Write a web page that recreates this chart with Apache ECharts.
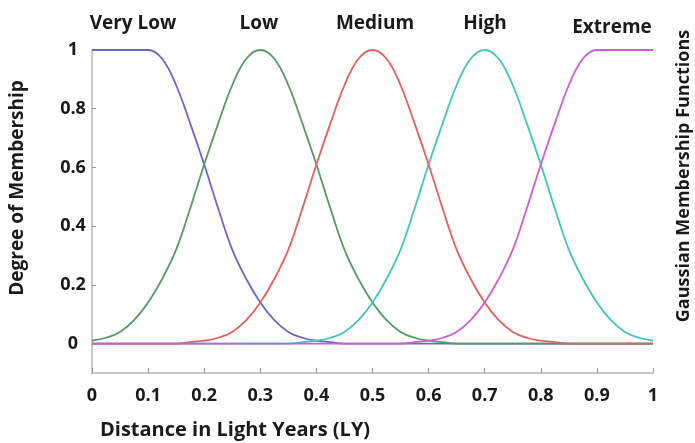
<!DOCTYPE html>
<html>
<head>
<meta charset="utf-8">
<script src="https://cdn.jsdelivr.net/npm/echarts@6/dist/echarts.min.js"></script>
<style>html,body{margin:0;padding:0;background:#fff}#c{width:695px;height:443px}</style>
</head>
<body>
<div id="c"></div>
<script>
// x positions (Distance in LY)
const xs = [0,0.025,0.05,0.075,0.1,0.125,0.15,0.175,0.2,0.225,0.25,0.275,0.3,0.325,0.35,0.375,0.4,0.425,0.45,0.475,0.5,0.525,0.55,0.575,0.6,0.625,0.65,0.675,0.7,0.725,0.75,0.775,0.8,0.825,0.85,0.875,0.9,0.925,0.95,0.975,1];
const categories = ["Very Low","Low","Medium","High","Extreme"];
const veryLow = [1,1,1,1,1,0.97,0.88,0.75,0.61,0.46,0.32,0.22,0.14,0.08,0.04,0.02,0.01,0.005,0,0,0,0,0,0,0,0,0,0,0,0,0,0,0,0,0,0,0,0,0,0,0];
const low = [0.01,0.02,0.04,0.08,0.14,0.22,0.32,0.46,0.61,0.75,0.88,0.97,1,0.97,0.88,0.75,0.61,0.46,0.32,0.22,0.14,0.08,0.04,0.02,0.01,0.005,0,0,0,0,0,0,0,0,0,0,0,0,0,0,0];
const medium = [0,0,0,0,0,0,0,0.005,0.01,0.02,0.04,0.08,0.14,0.22,0.32,0.46,0.61,0.75,0.88,0.97,1,0.97,0.88,0.75,0.61,0.46,0.32,0.22,0.14,0.08,0.04,0.02,0.01,0.005,0,0,0,0,0,0,0];
const high = [0,0,0,0,0,0,0,0,0,0,0,0,0,0,0,0.005,0.01,0.02,0.04,0.08,0.14,0.22,0.32,0.46,0.61,0.75,0.88,0.97,1,0.97,0.88,0.75,0.61,0.46,0.32,0.22,0.14,0.08,0.04,0.02,0.01];
const extreme = [0,0,0,0,0,0,0,0,0,0,0,0,0,0,0,0,0,0,0,0,0,0,0,0.005,0.01,0.02,0.04,0.08,0.14,0.22,0.32,0.46,0.61,0.75,0.88,0.97,1,1,1,1,1];
const yTicks = [0,0.2,0.4,0.6,0.8,1];
const xTicks = [0,0.1,0.2,0.3,0.4,0.5,0.6,0.7,0.8,0.9,1];

const FONT = '"Open Sans", sans-serif';
const TXT = '#1a1a1a';
const AX = '#b4b4b4';
const pairs = arr => xs.map((x, i) => [x, arr[i]]);

function line(name, arr, color) {
  return {
    name, type: 'line', data: pairs(arr), smooth: 0.4, symbol: 'none', clip: false,
    lineStyle: { color, width: 1.8 }, itemStyle: { color }
  };
}

const chart = echarts.init(document.getElementById('c'), null, { renderer: 'canvas' });
const labelPos = [[133, 24], [259, 24], [375, 24], [485, 24], [612, 28]];
chart.setOption({
  animation: false,
  backgroundColor: '#fff',
  grid: { left: 92, right: 42, top: 50, bottom: 70 },
  xAxis: {
    type: 'value', min: 0, max: 1, interval: 0.1,
    axisLine: { show: true, onZero: false, lineStyle: { color: AX, width: 1.5 } },
    axisTick: { show: true, inside: true, length: 5, lineStyle: { color: '#999' } },
    axisLabel: { margin: 14, fontFamily: FONT, fontWeight: 'bold', fontSize: 18, color: TXT,
      customValues: xTicks },
    splitLine: { show: false }
  },
  yAxis: {
    type: 'value', min: -0.1, max: 1,
    axisLine: { show: true, lineStyle: { color: AX, width: 1.5 } },
    axisTick: { show: true, inside: true, length: 4, lineStyle: { color: '#999' }, customValues: yTicks },
    axisLabel: { margin: 19, align: 'center', fontFamily: FONT, fontWeight: 'bold', fontSize: 18, color: TXT,
      customValues: yTicks },
    splitLine: { show: false }
  },
  series: [
    line(categories[0], veryLow, '#6c66c6'),
    line(categories[1], low, '#529c62'),
    line(categories[3], high, '#43c4be'),
    line(categories[2], medium, '#e2605e'),
    line(categories[4], extreme, '#d25ad2')
  ],
  graphic: [
    ...categories.map((c, i) => ({
      type: 'text', x: labelPos[i][0], y: labelPos[i][1],
      style: { text: c, font: 'bold 19px ' + FONT, fill: TXT, align: 'center', verticalAlign: 'middle' }
    })),
    { type: 'text', x: 100, y: 430,
      style: { text: 'Distance in Light Years (LY)', font: 'bold 20px ' + FONT, fill: TXT, align: 'left', verticalAlign: 'middle' } },
    { type: 'text', x: 18, y: 188, rotation: Math.PI / 2,
      style: { text: 'Degree of Membership', font: 'bold 19px ' + FONT, fill: TXT, align: 'center', verticalAlign: 'middle' } },
    { type: 'text', x: 684, y: 176, rotation: Math.PI / 2,
      style: { text: 'Gaussian Membership Functions', font: 'bold 18px ' + FONT, fill: TXT, align: 'center', verticalAlign: 'middle' } }
  ]
});
</script>
</body>
</html>
